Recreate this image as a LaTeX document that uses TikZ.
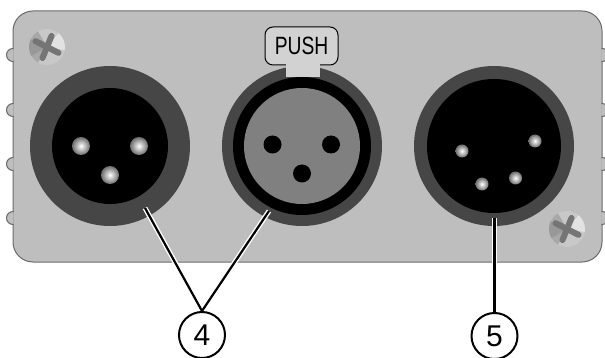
\documentclass[tikz,border=0pt]{standalone}
\usepackage{fontspec}
\setmainfont{Liberation Sans}
\definecolor{panelgrey}{HTML}{BEBEBE}
\definecolor{panelline}{HTML}{6A6A6A}
\definecolor{ringgrey}{HTML}{464646}
\definecolor{padgrey}{HTML}{808080}
\definecolor{tabgrey}{HTML}{D2D2D2}
\tikzset{
  panelfill/.style={fill=panelgrey,draw=panelline,line width=1pt},
  callout/.style={circle,draw=black,line width=2pt,fill=white,minimum size=46pt,inner sep=0pt,font=\fontsize{30}{30}\selectfont},
  lead/.style={draw=black,line width=2.2pt},
  halo/.style={draw=white,line width=5pt},
}
\newcommand{\malepin}[3]{\shade[inner color=white,outer color=gray!85!black] (#1,#2) circle (#3);}
\newcommand{\screwhead}[2]{%
  \begin{scope}[shift={(#1,#2)}]
    \fill[HTML=C8C8C8] (0,0) circle (18);
    \fill[HTML=A8A8A8] (0,0) -- (-120:18) arc (-120:-240:18) -- cycle;
    \fill[HTML=989898] (0,0) -- (150:18) arc (150:205:18) -- cycle;
    \fill[HTML=E2E2E2] (0,0) -- (-50:18) arc (-50:10:18) -- cycle;
    \draw[HTML=757575,line width=6pt,line cap=round] (-11.5,-5.8) -- (11.5,5.8);
    \draw[HTML=757575,line width=6pt,line cap=round] (4.5,-11) -- (-4.5,11);
  \end{scope}}
\tikzset{HTML/.code={\definecolor{tmpc}{HTML}{#1}\pgfkeysalso{color=tmpc}}}
\begin{document}
\begin{tikzpicture}[x=1pt,y=-1pt]
\useasboundingbox (0,0) rectangle (605,358);
\draw[panelfill] (13,31) arc[start angle=180,end angle=90,x radius=20,y radius=-20] -- (582,11)
  arc[start angle=90,end angle=0,x radius=20,y radius=-20] -- (602,242)
  arc[start angle=0,end angle=-90,x radius=20,y radius=-20] -- (33,262)
  arc[start angle=-90,end angle=-180,x radius=20,y radius=-20] -- cycle;
\begin{scope}
\clip (0,0) rectangle (13.6,358);
\foreach \y in {55,110,164,218}{\draw[panelfill] (13,\y) circle (6.5);}
\end{scope}
\begin{scope}
\clip (601.4,0) rectangle (605,358);
\foreach \y in {55,110,164,218}{\draw[panelfill] (602,\y) circle (6.5);}
\end{scope}
\screwhead{47}{47}
\screwhead{567}{229}
\fill[ringgrey] (110,146) circle (80);
\fill[black] (110,146) circle (58);
\malepin{81}{146}{9}
\malepin{139}{146}{9}
\malepin{110}{175}{9}
\fill[ringgrey] (302,146) circle (80);
\fill[black] (302,146) circle (69);
\fill[padgrey] (302,146) circle (58);
\fill[black] (272.5,144.5) circle (9);
\fill[black] (331,144.5) circle (9);
\fill[black] (302,173.5) circle (9);
\node[draw=black,line width=1pt,rounded corners=8pt,fill=tabgrey,minimum width=73pt,minimum height=38pt,inner sep=0pt,font=\fontsize{25}{25}\selectfont] (push) at (301.5,46) {\scalebox{0.77}[1]{PUSH}};
\fill[tabgrey] (285.5,60) rectangle (319.5,77);
\fill[ringgrey] (494,146) circle (80);
\fill[black] (494,146) circle (67);
\malepin{462}{151}{6.5}
\malepin{535}{141}{6.5}
\malepin{482}{184}{6.5}
\malepin{515.5}{178}{6.5}
\node[callout] (four) at (202,335) {4};
\node[callout] (five) at (494.5,336) {5};
\coordinate (a) at (145,208);
\coordinate (b) at (269,211);
\coordinate (c) at (494.5,218);
\begin{scope}
\clip (0,0) rectangle (605,263);
\draw[halo] (a) -- (four.north);
\draw[halo] (b) -- (four.north);
\draw[halo] (c) -- (five.north);
\end{scope}
\draw[lead] (a) -- (four.north);
\draw[lead] (b) -- (four.north);
\draw[lead] (c) -- (five.north);
\end{tikzpicture}
\end{document}
